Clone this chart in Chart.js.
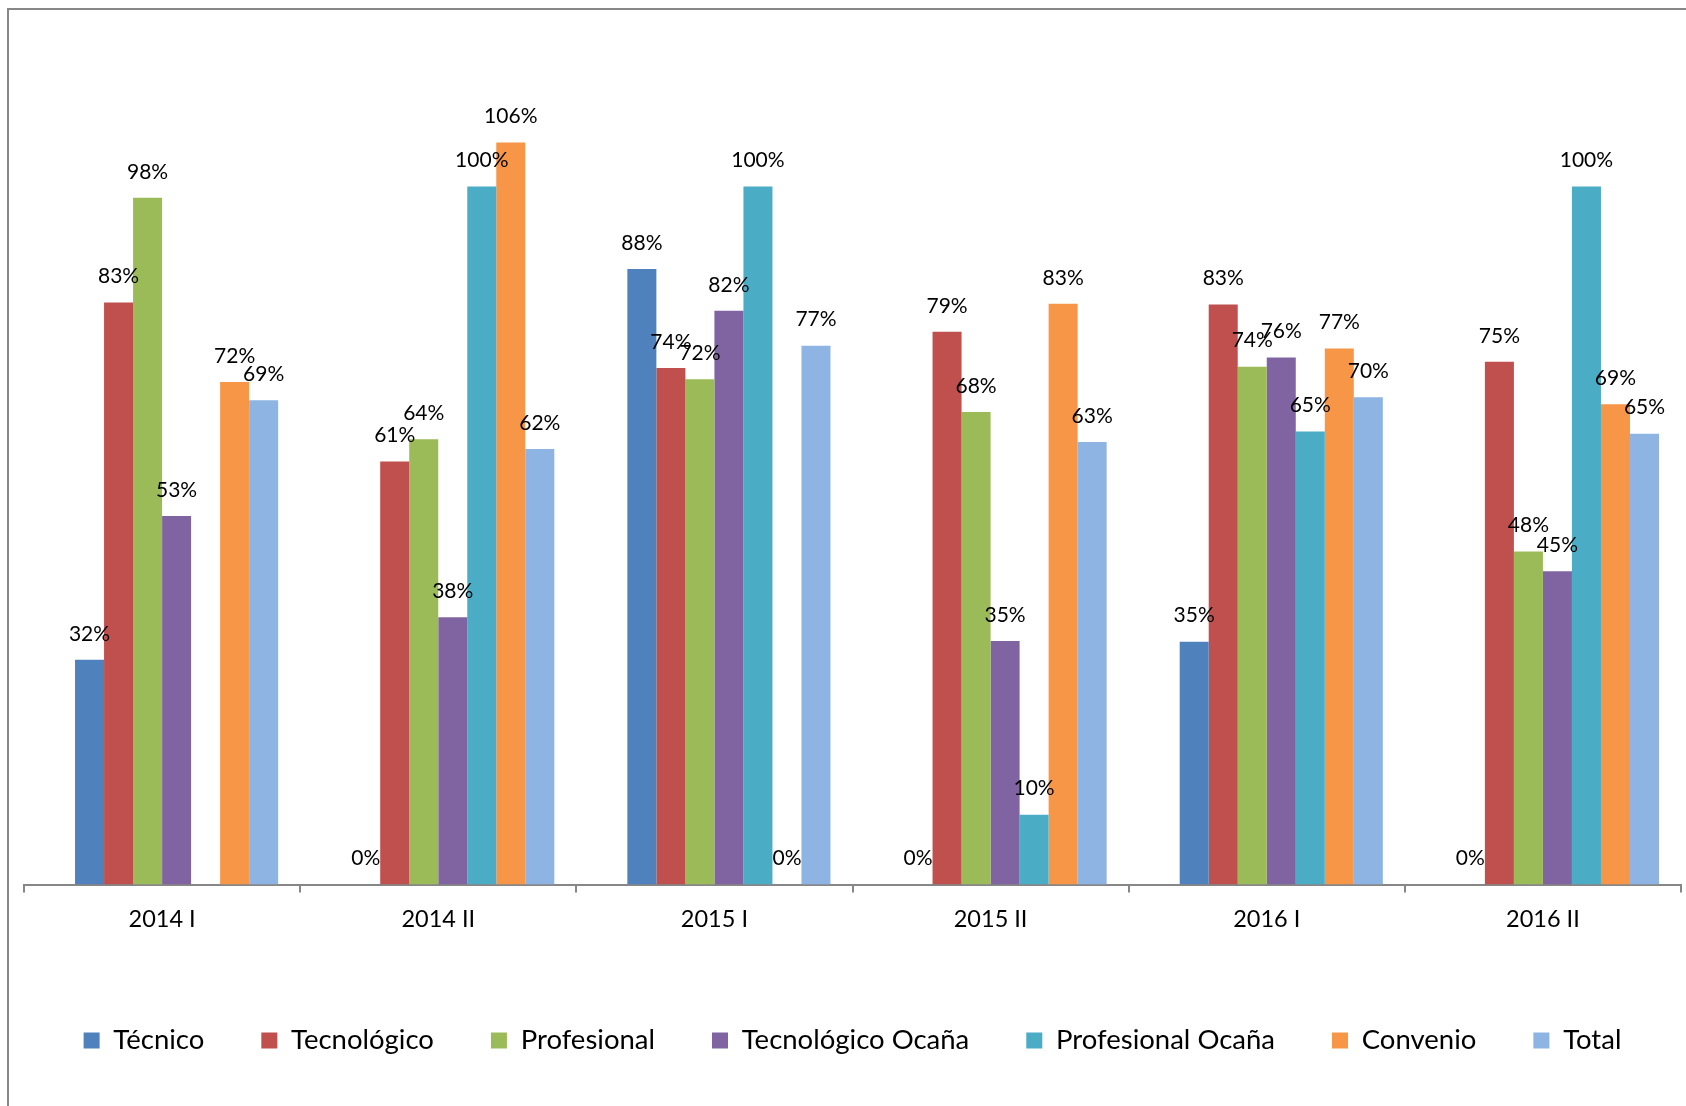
<!DOCTYPE html>
<html>
<head>
<meta charset="utf-8">
<script src="https://cdn.jsdelivr.net/npm/chart.js@4/dist/chart.umd.min.js"></script>
<style>
  html, body { margin: 0; padding: 0; background: #fff; overflow: hidden; }
  #frame {
    position: absolute; left: 7px; top: 8px; width: 2000px; height: 2000px;
    border: 2px solid #878787;
  }
  #myChart { position: absolute; left: 0; top: 0; }
</style>
</head>
<body>
<div id="frame"></div>
<canvas id="myChart" width="1686" height="1106"></canvas>
<script>
// semesters on the x axis
const semesters = ["2014 I", "2014 II", "2015 I", "2015 II", "2016 I", "2016 II"];

// percentages per program (null = no bar)
const tecnico = [32.2, 0, 88.2, 0, 34.8, 0];
const tecnologico = [83.4, 60.6, 74.0, 79.2, 83.1, 74.9];
const profesional = [98.4, 63.8, 72.4, 67.7, 74.2, 47.7];
const tecnologicoOcana = [52.8, 38.3, 82.2, 34.9, 75.5, 44.9];
const profesionalOcana = [null, 100, 100, 10, 64.9, 100];
const convenio = [72.0, 106.3, 0, 83.2, 76.8, 68.8];
const total = [69.4, 62.4, 77.2, 63.4, 69.8, 64.6];
// the excel chart had an empty first series that still takes a slot
const emptySeries = [null, null, null, null, null, null];

const seriesNames = ["Técnico", "Tecnológico", "Profesional", "Tecnológico Ocaña", "Profesional Ocaña", "Convenio", "Total"];
const seriesColors = ["#4F81BD", "#C0504D", "#9BBB59", "#8064A2", "#4BACC6", "#F79646", "#8EB4E3"];

const FONT = "Lato";

// draws the % labels above each bar
const barLabels = {
  id: "barLabels",
  afterDatasetsDraw(chart) {
    const ctx = chart.ctx;
    ctx.save();
    ctx.font = "21px " + FONT;
    ctx.fillStyle = "#000";
    ctx.textAlign = "center";
    ctx.textBaseline = "middle";
    chart.data.datasets.forEach(function (ds, i) {
      if (!ds.label) return;
      const meta = chart.getDatasetMeta(i);
      meta.data.forEach(function (bar, j) {
        const v = ds.data[j];
        if (v === null || v === undefined) return;
        ctx.fillText(Math.round(v) + "%", bar.x, bar.y - 26);
      });
    });
    ctx.restore();
  },
};

function buildChart() {
  const allSeries = [tecnico, tecnologico, profesional, tecnologicoOcana, profesionalOcana, convenio, total];
  const datasets = [{ label: "", data: emptySeries, backgroundColor: "#fff", borderWidth: 0 }];
  allSeries.forEach(function (s, i) {
    datasets.push({
      label: seriesNames[i],
      data: s,
      backgroundColor: seriesColors[i],
      borderWidth: 0,
    });
  });

  const ctx = document.getElementById("myChart").getContext("2d");
  new Chart(ctx, {
    type: "bar",
    data: { labels: semesters, datasets: datasets },
    plugins: [barLabels],
    options: {
      responsive: false,
      animation: false,
      devicePixelRatio: 1,
      layout: { padding: { left: 24, right: 5, top: 47, bottom: 41.75 } },
      datasets: { bar: { categoryPercentage: 0.8406, barPercentage: 1 } },
      scales: {
        x: {
          grid: {
            display: true,
            drawOnChartArea: false,
            drawTicks: true,
            tickLength: 8,
            color: "#878787",
            lineWidth: 2,
          },
          border: { display: true, color: "#878787", width: 2 },
          ticks: { color: "#000", font: { family: FONT, size: 23.5 }, padding: 13 },
          afterFit: function (scale) {
            scale.height = 85.25;
          },
        },
        y: {
          display: false,
          min: 0,
          max: 120,
        },
      },
      plugins: {
        tooltip: { enabled: false },
        legend: {
          position: "bottom",
          labels: {
            color: "#000",
            font: { family: FONT, size: 27.5 },
            boxWidth: 16,
            boxHeight: 16,
            padding: 57,
            filter: function (item) {
              return item.text !== "";
            },
          },
        },
      },
    },
  });
}

document.fonts.load("21px " + FONT).then(buildChart, buildChart);
</script>
</body>
</html>
